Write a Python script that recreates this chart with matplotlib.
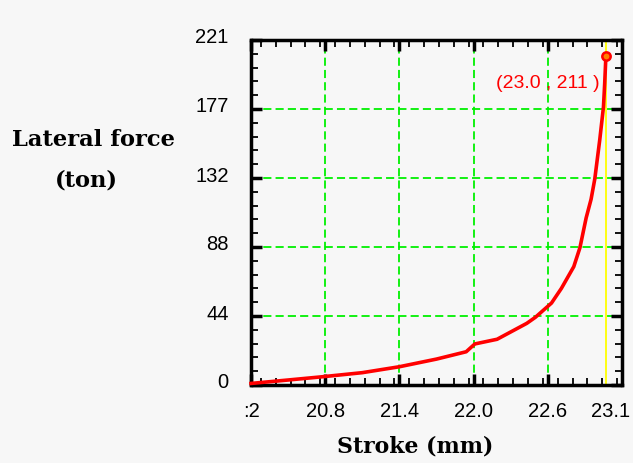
import matplotlib.pyplot as plt
from matplotlib.ticker import MultipleLocator, FixedLocator
from matplotlib.transforms import ScaledTranslation

# curve
stroke = [20.20, 20.50, 20.78, 21.10, 21.40, 21.70, 21.94, 22.01, 22.19, 22.43,
          22.50, 22.63, 22.71, 22.81, 22.86, 22.91, 22.95, 22.98, 23.02, 23.05,
          23.06, 23.07]
force = [1.0, 3.2, 5.3, 7.9, 11.7, 16.6, 21.3, 26.3, 29.3, 39.5,
         43.4, 52.5, 61.9, 75.8, 88.0, 107.0, 119.0, 132.0, 157.0, 178.0,
         193.0, 211.0]

cursor_x = 23.07
cursor_y = 211
cursor_text = "(23.0 , 211 )"

xticks = [20.2, 20.8, 21.4, 22.0, 22.6]
xticklabels = [":2", "20.8", "21.4", "22.0", "22.6"]
last_xlabel = "23.1"
yticks = [0, 44.2, 88.4, 132.6, 176.8, 221]
yticklabels = ["0", "44", "88", "132", "177", "221"]

bg = "#f7f7f7"
tick_font = "Liberation Sans"


def main():
    fig = plt.figure(figsize=(6.33, 4.63), dpi=100, facecolor=bg)
    ax = fig.add_axes([251 / 633, 78 / 463, 371 / 633, 345 / 463], facecolor=bg)

    ax.set_xlim(20.2, 23.2)
    ax.set_ylim(0, 221)

    ax.xaxis.set_major_locator(FixedLocator(xticks))
    ax.set_xticklabels(xticklabels, fontsize=14.5, family=tick_font)
    ax.xaxis.set_minor_locator(MultipleLocator(0.12))
    ax.yaxis.set_major_locator(FixedLocator(yticks))
    ax.set_yticklabels(yticklabels, fontsize=14.5, family=tick_font)
    ax.yaxis.set_minor_locator(MultipleLocator(221 / 25))

    ax.tick_params(which="both", direction="in", top=True, right=True, color="black")
    ax.tick_params(which="major", length=8, width=2.5)
    ax.tick_params(which="minor", length=5, width=1.3)
    ax.tick_params(axis="x", which="major", pad=12)
    ax.tick_params(axis="y", which="major", pad=16)
    for s in ax.spines.values():
        s.set_linewidth(2.5)
        s.set_color("black")

    # y labels sit a few pixels above their ticks in the reference
    up = ScaledTranslation(0, 4 / 100, fig.dpi_scale_trans)
    for t in ax.yaxis.get_major_ticks():
        t.label1.set_transform(t.label1.get_transform() + up)

    # green dashed grid on interior majors
    for xv in xticks[1:]:
        ax.axvline(xv, color="#00f000", lw=1.3, ls=(0, (4.5, 2.3)), zorder=1)
    for yv in yticks[1:-1]:
        ax.axhline(yv, color="#00f000", lw=1.3, ls=(0, (4.5, 2.3)), zorder=1)

    ax.axvline(cursor_x, color="#ffff00", lw=1.3, zorder=2)
    ax.plot(stroke, force, color="red", lw=2.6, zorder=3, clip_on=False)
    ax.plot([cursor_x], [cursor_y], "o", ms=6, mfc="#ff8000", mec="red",
            mew=1.8, zorder=4, clip_on=False)
    ax.text(23.02, 193, cursor_text, color="red", fontsize=14, family=tick_font,
            ha="right", va="center")

    # end label on the x axis
    ax.annotate(last_xlabel, xy=(23.11, 0), xycoords=("data", "axes fraction"),
                xytext=(0, -12), textcoords="offset points",
                fontsize=14.5, family=tick_font, ha="center", va="top")

    fig.text(94 / 633, 1 - 140 / 463, "Lateral force", family="DejaVu Serif",
             weight="bold", fontsize=16.3, ha="center", va="center")
    fig.text(86 / 633, 1 - 180 / 463, "(ton)", family="DejaVu Serif",
             weight="bold", fontsize=16.3, ha="center", va="center")
    fig.text(415 / 633, 1 - 446 / 463, "Stroke (mm)", family="DejaVu Serif",
             weight="bold", fontsize=15.8, ha="center", va="center")

    fig.savefig("out.png", dpi=100, facecolor=bg)


if __name__ == "__main__":
    main()
